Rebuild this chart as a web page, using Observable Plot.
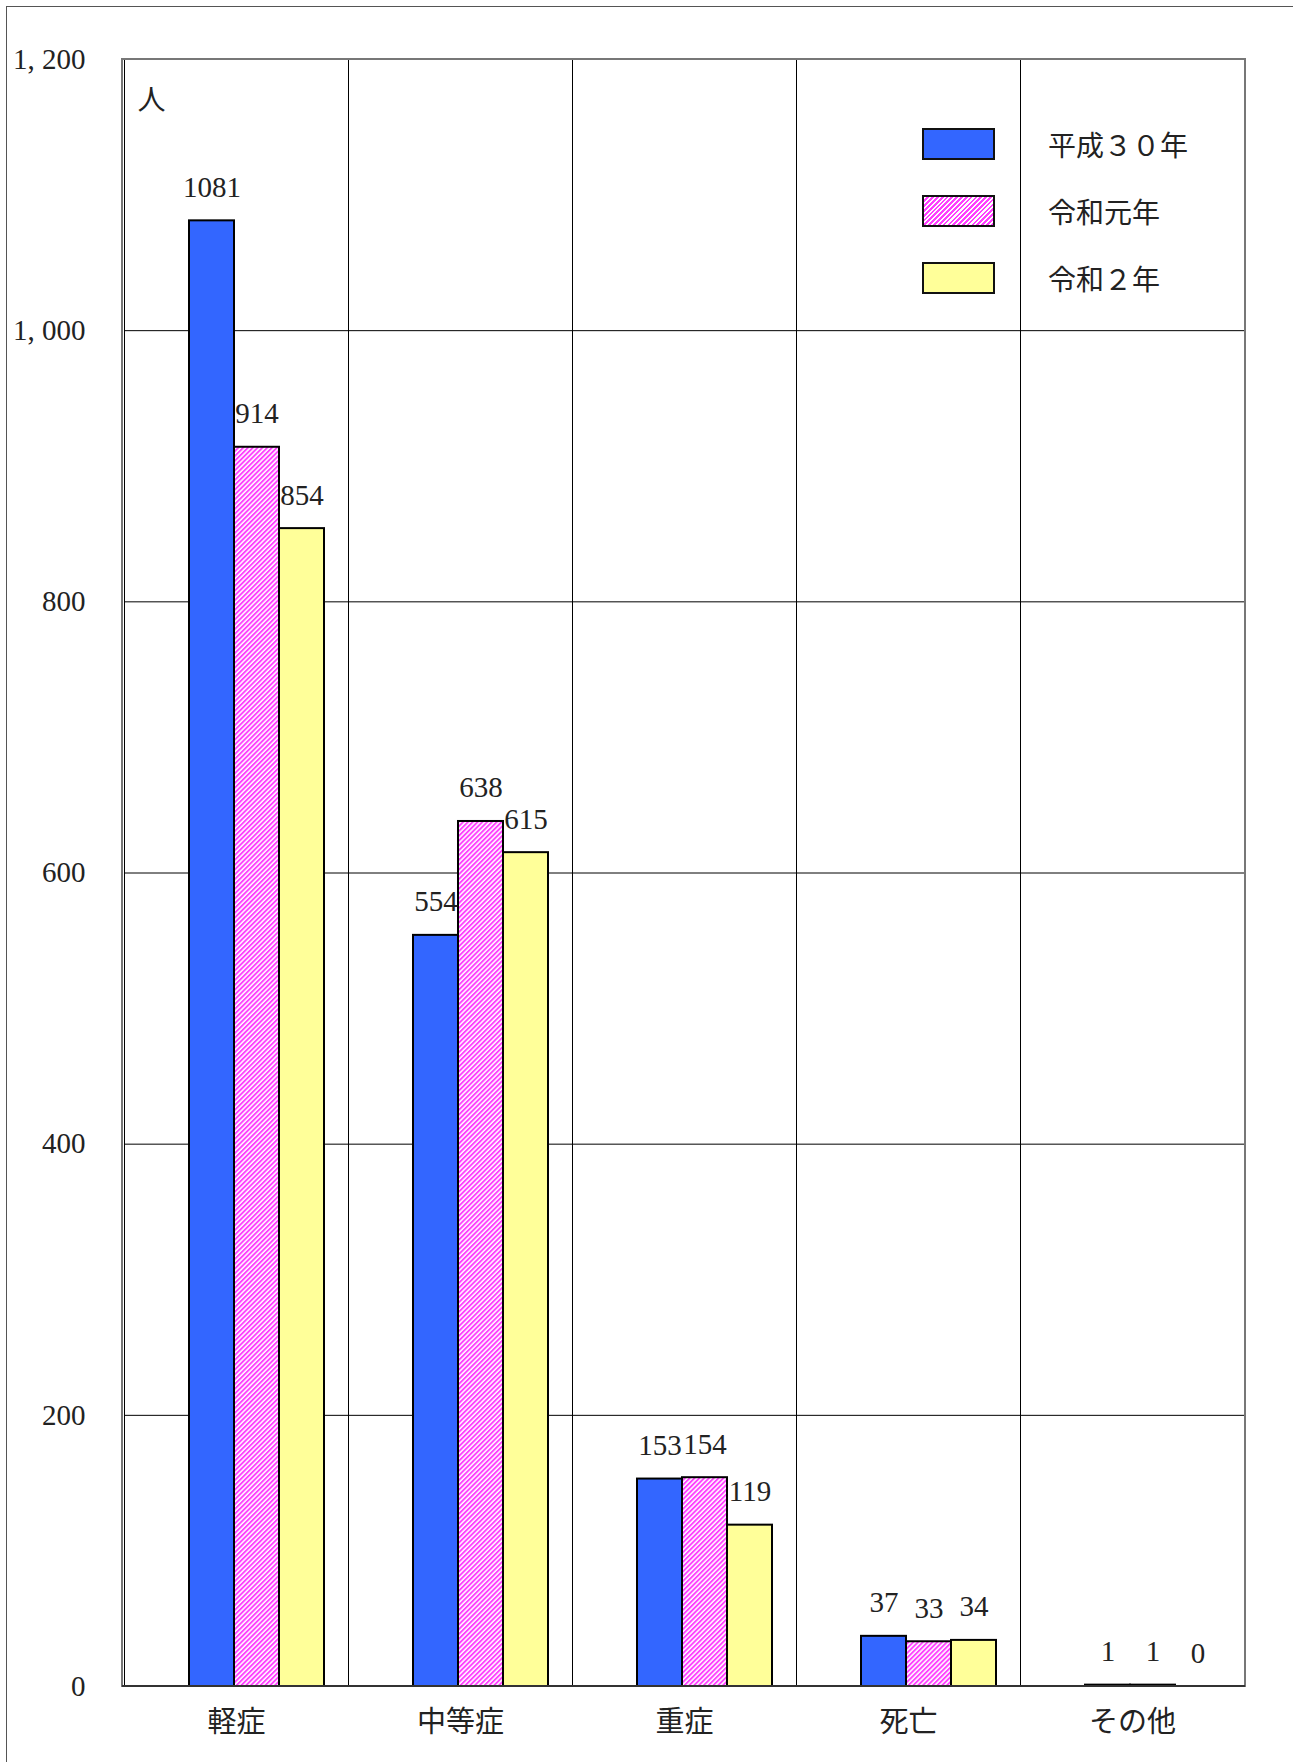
<!DOCTYPE html>
<html>
<head>
<meta charset="utf-8">
<script src="https://cdn.jsdelivr.net/npm/d3@7"></script>
<script src="https://cdn.jsdelivr.net/npm/@observablehq/plot@0.6"></script>
<style>
  html, body { margin: 0; padding: 0; background: #fff; overflow: hidden; }
  #wrap { position: relative; width: 1293px; height: 1762px; }
  #border { position: absolute; left: 6px; top: 6px; width: 1400px; height: 1900px;
            border-left: 1.5px solid #555; border-top: 1.5px solid #555; pointer-events: none; }
  #legend { position: absolute; left: 922px; top: 128px;
            font-family: "Noto Sans CJK JP", sans-serif; font-size: 28px; color: #222; }
  .row { display: flex; align-items: center; height: 32px; margin-bottom: 35px; }
  .sw { width: 69px; height: 28px; border: 2px solid #111; }
  .lab { margin-left: 53px; line-height: 1; }
</style>
</head>
<body>
<div id="wrap">
  <div id="chart"></div>
  <div id="legend"></div>
  <div id="border"></div>
</div>
<script>
// Categories (severity) and the three survey years
const categories = ["軽症", "中等症", "重症", "死亡", "その他"];
const series = ["平成３０年", "令和元年", "令和２年"];

// Number of people per category, one array per year
const h30 = [1081, 554, 153, 37, 1];
const r1  = [914, 638, 154, 33, 1];
const r2  = [854, 615, 119, 34, 0];

// Y axis ticks and their labels
const yTicks = [0, 200, 400, 600, 800, 1000, 1200];
const yTickLabels = ["0", "200", "400", "600", "800", "1, 000", "1, 200"];
const unitLabel = "人";

// Fill per year (the middle one is a diagonal hatch)
const fills = ["#3366ff", "url(#hatch)", "#ffff99"];
const legendFills = ["#3366ff",
  "repeating-linear-gradient(-45deg, #ff40ff 0 1.9px, #fff 1.9px 3.4px)",
  "#ffff99"];

const rows = [h30, r1, r2].flatMap((vals, si) =>
  vals.map((v, ci) => ({category: categories[ci], series: series[si], value: v})));

const plot = Plot.plot({
  width: 1293,
  height: 1762,
  marginLeft: 122,
  marginRight: 48,
  marginTop: 59,
  marginBottom: 76,
  style: {
    fontFamily: '"Liberation Serif", "Noto Sans CJK JP", serif',
    fontSize: "29px",
    color: "#222",
    background: "#fff",
    overflow: "visible"
  },
  fx: {domain: categories, padding: 0, label: null, tickSize: 0, tickPadding: 25},
  x: {domain: series, paddingInner: 0, paddingOuter: 0.98, align: 0.73, axis: null},
  y: {
    domain: [0, 1200],
    ticks: yTicks,
    tickFormat: d => yTickLabels[yTicks.indexOf(d)],
    tickSize: 0,
    tickPadding: 39,
    label: null
  },
  color: {domain: series, range: fills},
  marks: [
    Plot.ruleY(yTicks.slice(1, -1), {stroke: "#000", strokeWidth: 1}),
    Plot.frame({stroke: "#000", strokeWidth: 1}),
    Plot.barY(rows, {fx: "category", x: "series", y: "value", fill: "series",
                     stroke: "#000", strokeWidth: 2}),
    Plot.text(rows, {fx: "category", x: "series", y: "value",
                     text: d => String(d.value), dy: -24, lineAnchor: "bottom",
                     fontSize: 29, fill: "#222"}),
    Plot.text([categories[0]], {fx: d => d, frameAnchor: "top-left", text: () => unitLabel,
                     dx: 13, dy: 42, lineAnchor: "middle", textAnchor: "start",
                     fontFamily: '"Noto Sans CJK JP", sans-serif', fontSize: 28, fill: "#222"})
  ]
});

// Hatch pattern used by the middle series
const svg = d3.select(plot);
const defs = svg.insert("defs", ":first-child");
const pat = defs.append("pattern")
  .attr("id", "hatch")
  .attr("patternUnits", "userSpaceOnUse")
  .attr("width", 3.4).attr("height", 3.4)
  .attr("patternTransform", "rotate(45)");
pat.append("rect").attr("width", 3.4).attr("height", 3.4).attr("fill", "#fff");
pat.append("rect").attr("width", 1.9).attr("height", 3.4).attr("fill", "#ff40ff");

// Outer frame of the plotting area and the baseline
const [fx0, fx1] = plot.scale("fx").range;
const [yb, yt] = plot.scale("y").range;
svg.append("rect")
  .attr("x", fx0).attr("y", yt)
  .attr("width", fx1 - fx0).attr("height", yb - yt)
  .attr("fill", "none").attr("stroke", "#777").attr("stroke-width", 2);
svg.append("line")
  .attr("x1", fx0).attr("x2", fx1).attr("y1", yb).attr("y2", yb)
  .attr("stroke", "#333").attr("stroke-width", 2);

document.getElementById("chart").appendChild(plot);

// Legend
const legend = d3.select("#legend");
series.forEach((s, i) => {
  const row = legend.append("div").attr("class", "row");
  row.append("div").attr("class", "sw").style("background", legendFills[i]);
  row.append("div").attr("class", "lab").text(s);
});
</script>
</body>
</html>
